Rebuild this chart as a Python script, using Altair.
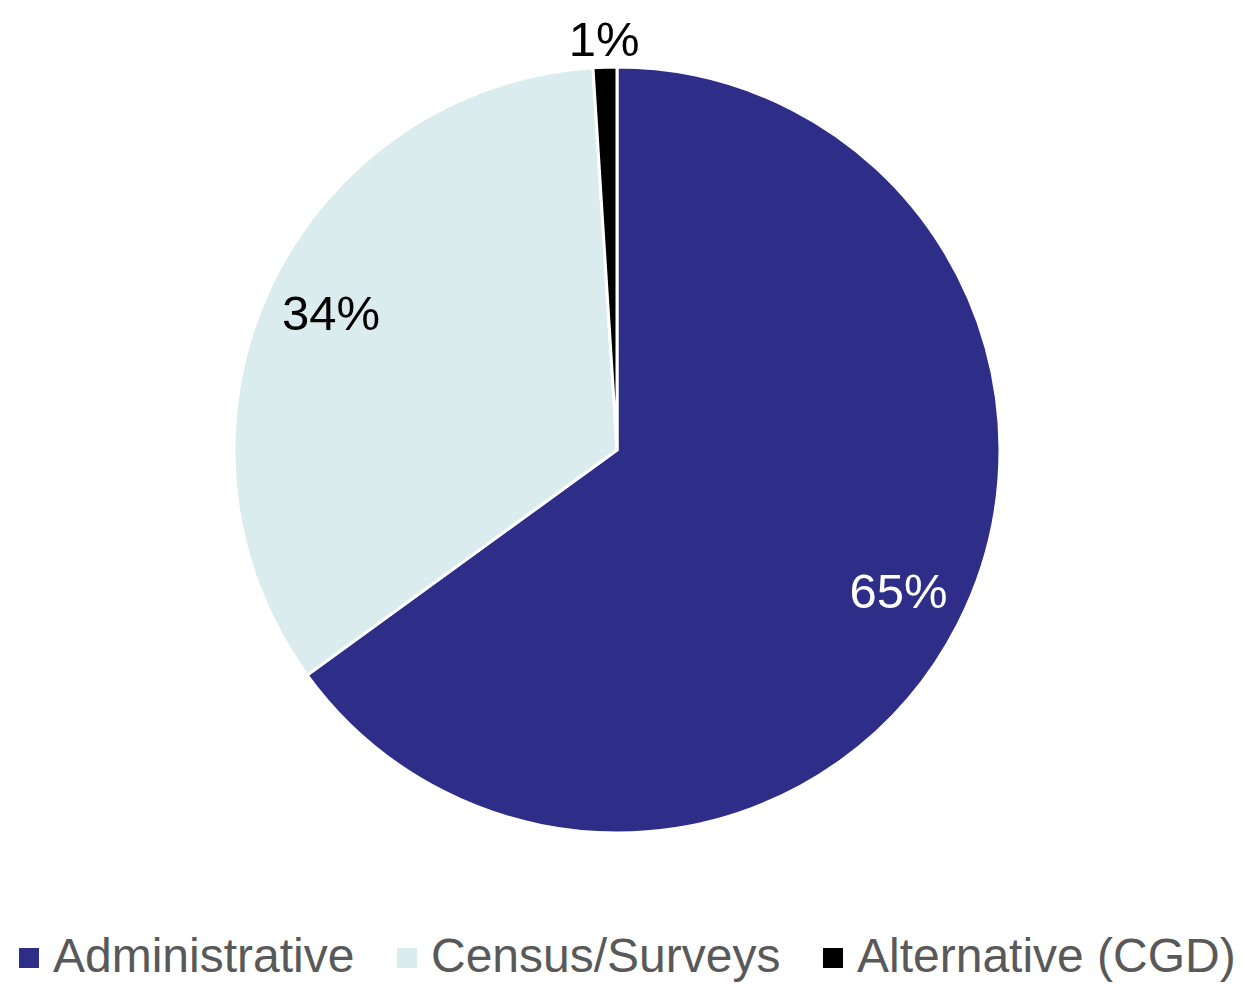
import altair as alt
import pandas as pd

categories = ["Administrative", "Census/Surveys", "Alternative (CGD)"]
shares = [65, 34, 1]
colors = ["#2E2D88", "#DAECED", "#000000"]

df = pd.DataFrame({"category": categories, "value": shares})

FONT = "Liberation Sans"
CX, CY = 609, 442

src = alt.Chart(df).transform_window(idx="row_number()")

arcs = src.mark_arc(outerRadius=383, stroke="white", strokeWidth=3).encode(
    theta=alt.Theta("value:Q", stack=True),
    order=alt.Order("idx:Q"),
    x=alt.value(CX),
    y=alt.value(CY),
    color=alt.Color(
        "category:N",
        scale=alt.Scale(domain=categories, range=colors),
        sort=categories,
        legend=alt.Legend(
            title=None,
            orient="none",
            direction="horizontal",
            legendX=-3,
            legendY=926,
            symbolType="square",
            symbolSize=400,
            symbolStrokeWidth=0,
            labelFont=FONT,
            labelFontSize=48,
            labelColor="#595959",
            labelOffset=0,
            columnPadding=28,
            labelLimit=600,
        ),
    ),
)

labels = src.transform_joinaggregate(
    total="sum(value)"
).transform_window(
    cum="sum(value)", sort=[alt.SortField("idx")], frame=[None, 0]
).transform_calculate(
    mid="2 * PI * (datum.cum - datum.value / 2) / datum.total",
    lr="datum.value < 5 ? 409 : 316",
    pct="datum.value + '%'",
).mark_text(font=FONT, fontSize=49).encode(
    theta=alt.Theta("mid:Q", scale=None),
    radius=alt.Radius("lr:Q", scale=None),
    x=alt.value(CX),
    y=alt.value(CY),
    text=alt.Text("pct:N"),
    color=alt.condition(
        alt.datum.category == "Administrative", alt.value("white"), alt.value("black")
    ),
)

chart = alt.layer(arcs, labels).resolve_scale(theta="independent").properties(
    width=1227, height=975, padding=0,
    autosize=alt.AutoSizeParams(type="none"),
).configure_view(stroke=None)

chart.save("out.html", embed_options={"renderer": "svg", "actions": False})
